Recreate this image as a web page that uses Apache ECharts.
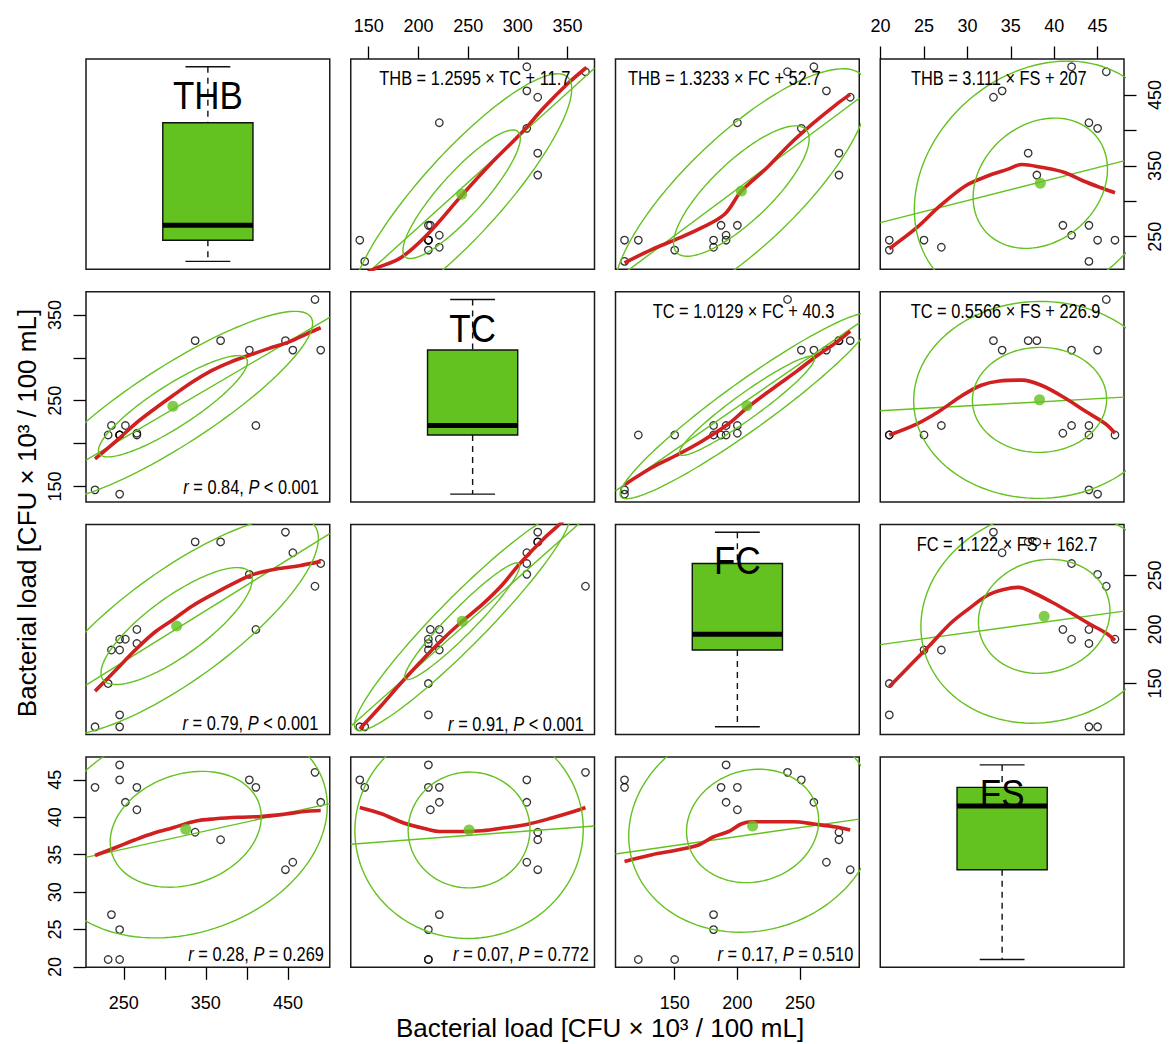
<!DOCTYPE html>
<html><head><meta charset="utf-8">
<script src="https://cdn.jsdelivr.net/npm/echarts@6/dist/echarts.min.js"></script>
<style>html,body{margin:0;padding:0;background:#fff}#c{width:1169px;height:1044px}</style>
</head><body><div id="c"></div>
<script>
// ---------------- data (18 samples) ----------------
const varNames = ['THB', 'TC', 'FC', 'FS'];
const THB = [245, 231, 245, 235, 447, 456, 368, 337, 266, 252, 490, 266, 215, 411, 403, 245, 483, 245];
const TC  = [210, 210, 210, 221, 320, 309, 320, 320, 212, 221, 309, 210, 146, 221, 309, 141, 368, 210];
const FC  = [121, 150, 181, 181, 290, 271, 281, 281, 200, 191, 261, 187, 110, 200, 251, 110, 240, 191];
const FS  = [21, 21, 25, 27, 33, 34, 37, 38, 41, 42, 42, 44, 44, 44, 45, 45, 46, 47];

// smoothed (loess) curves: [x, y] with y = row variable, x = column variable
const smooth_THB_TC = [[141,190],[152,202],[182,220],[209,253],[244,309],[272,352],[304,397],[326,432],[350,466],[369,489]];
const smooth_THB_FC = [[110,213],[132,232],[151,246],[172,263],[190,282],[203,314],[224,348],[242,381],[261,411],[279,437],[290,451]];
const smooth_THB_FS = [[21,233],[24.2,263],[26.8,293],[29.8,322],[32.4,336],[34.6,345],[36.3,352],[38.5,348],[41.1,341],[43.3,329],[45.4,319],[47,312]];
const smooth_TC_THB = [[215,182],[241,203],[264,223],[287,240],[310,256],[334,272],[357,285],[380,295],[403,303],[427,311],[450,318],[473,328],[490,335]];
const smooth_TC_FC  = [[110,152],[132,172],[151,186],[172,203],[193,223],[208,242],[230,266],[248,285],[264,303],[279,318],[290,331]];
const smooth_TC_FS  = [[21,210],[24.2,223],[26.8,238],[29.4,256],[31.6,268],[33.7,273],[36.3,274],[38.5,268],[41.1,254],[43.7,237],[45.9,223],[47,212]];
const smooth_FC_THB = [[215,143],[241,163],[264,181],[287,197],[310,209],[334,222],[362,234],[390,245],[408,251],[436,256],[464,259],[490,263]];
const smooth_FC_TC  = [[141,108],[162,129],[182,150],[201,169],[221,188],[242,206],[264,223],[283,240],[303,262],[326,284],[344,299],[369,322]];
const smooth_FC_FS  = [[21,147],[23.3,166],[25.5,184],[28.1,206],[30.3,220],[32.4,232],[34.2,237],[35.9,239],[37.6,234],[39.8,225],[42,215],[44.1,205],[45.9,197],[47,190]];
const smooth_FS_THB = [[215,34.9],[241,36.0],[264,37.0],[287,37.9],[310,38.6],[338,39.5],[362,39.8],[390,40.0],[417,40.1],[445,40.4],[473,40.8],[490,40.9]];
const smooth_FS_TC  = [[141,41.3],[162,40.5],[186,39.2],[209,38.4],[221,38.1],[240,38.1],[264,38.2],[287,38.6],[311,39.1],[334,39.9],[357,40.8],[368,41.3]];
const smooth_FS_FC  = [[110,34.1],[132,35.0],[151,35.6],[169,36.3],[181,37.4],[193,38.1],[203,39.1],[212,39.4],[230,39.4],[245,39.4],[261,39.1],[279,38.7],[290,38.3]];
const smoothCurves = {
  '0-1': smooth_THB_TC, '0-2': smooth_THB_FC, '0-3': smooth_THB_FS,
  '1-0': smooth_TC_THB, '1-2': smooth_TC_FC, '1-3': smooth_TC_FS,
  '2-0': smooth_FC_THB, '2-1': smooth_FC_TC, '2-3': smooth_FC_FS,
  '3-0': smooth_FS_THB, '3-1': smooth_FS_TC, '3-2': smooth_FS_FC
};

// regression equations shown in the upper panels (row-col)
const eqTexts = {
  '0-1': 'THB = 1.2595 × TC + 11.7',
  '0-2': 'THB = 1.3233 × FC + 52.7',
  '0-3': 'THB = 3.111 × FS + 207',
  '1-2': 'TC = 1.0129 × FC + 40.3',
  '1-3': 'TC = 0.5566 × FS + 226.9',
  '2-3': 'FC = 1.122 × FS + 162.7'
};
const corrTexts = {
  '1-0': ['0.84', '< 0.001'],
  '2-0': ['0.79', '< 0.001'],
  '2-1': ['0.91', '< 0.001'],
  '3-0': ['0.28', '= 0.269'],
  '3-1': ['0.07', '= 0.772'],
  '3-2': ['0.17', '= 0.510']
};
const ticksTHB = [250, 300, 350, 400, 450];
const labelsTHB = [250, 350, 450];
const ticksTC = [150, 200, 250, 300, 350];
const labelsTCtop = [150, 200, 250, 300, 350];
const labelsTCleft = [150, 250, 350];
const ticksFC = [150, 200, 250];
const labelsFC = [150, 200, 250];
const ticksFS = [20, 25, 30, 35, 40, 45];
const labelsFS = [20, 25, 30, 35, 40, 45];
// ellipse radii (in robust standard-deviation units)
const ellipseRadii = [1.0, 1.875];
const axisTitle = 'Bacterial load [CFU × 10³ / 100 mL]';

// ---------------- layout / style ----------------
const L = 86, T = 59, W = 243.75, H = 210.2, GX = 21, GY = 22.5;
const GREEN = '#63C21F', RED = '#D0201F';
const FONT = '"Liberation Sans", Arial, Helvetica, sans-serif';
const eqPos = { '0-1': 0.509, '0-2': 0.446, '0-3': 0.486, '1-2': 0.525, '1-3': 0.514, '2-3': 0.52 };
const rPos = { '1-0': [10.8, 15], '2-0': [11.5, 11.5], '2-1': [10.7, 11.3], '3-0': [5.8, 14], '3-1': [5.7, 14], '3-2': [6, 14] };

const vars = [THB, TC, FC, FS];

// ---------------- statistics helpers ----------------
const sum = a => a.reduce((s, v) => s + v, 0);
const mean = a => sum(a) / a.length;
function rangeOf(a) {
  const mn = Math.min(...a), mx = Math.max(...a), d = mx - mn;
  return [mn - 0.04 * d, mx + 0.04 * d];
}
function lm(x, y) {
  const mx = mean(x), my = mean(y);
  let sxy = 0, sxx = 0;
  x.forEach((v, i) => { sxy += (v - mx) * (y[i] - my); sxx += (v - mx) * (v - mx); });
  const b = sxy / sxx;
  return [my - b * mx, b];
}
function fivenum(a) {
  const x = a.slice().sort((p, q) => p - q), n = x.length;
  const n4 = Math.floor((n + 3) / 2) / 2;
  const d = [1, n4, (n + 1) / 2, n + 1 - n4, n];
  return d.map(v => 0.5 * (x[Math.floor(v) - 1] + x[Math.ceil(v) - 1]));
}
// MASS::cov.trob (nu = 5): robust centre and scatter
function covTrob(x, y) {
  const n = x.length, p = 2, nu = 5, tol = 0.01, maxit = 25;
  let w = new Array(n).fill(1);
  let loc = [mean(x), mean(y)];
  let X = [];
  for (let it = 0; it < maxit; it++) {
    const w0 = w.slice();
    X = x.map((v, i) => [v - loc[0], y[i] - loc[1]]);
    const sw = sum(w);
    let a = 0, b = 0, c = 0;
    X.forEach((v, i) => { const f = w[i] / sw; a += f * v[0] * v[0]; b += f * v[0] * v[1]; c += f * v[1] * v[1]; });
    const det = a * c - b * b;
    const Q = X.map(v => (c * v[0] * v[0] - 2 * b * v[0] * v[1] + a * v[1] * v[1]) / det);
    w = Q.map(qq => (nu + p) / (nu + qq));
    const sw2 = sum(w);
    loc = [sum(x.map((v, i) => w[i] * v)) / sw2, sum(y.map((v, i) => w[i] * v)) / sw2];
    if (Math.max(...w.map((v, i) => Math.abs(v - w0[i]))) < tol) break;
  }
  let a = 0, b = 0, c = 0;
  X.forEach((v, i) => { a += w[i] * v[0] * v[0]; b += w[i] * v[0] * v[1]; c += w[i] * v[1] * v[1]; });
  return { center: loc, cov: [a / n, b / n, c / n] };
}
function ellipsePts(ct, cov, r) {
  const l11 = Math.sqrt(cov[0]), l21 = cov[1] / l11, l22 = Math.sqrt(Math.max(cov[2] - l21 * l21, 0));
  const pts = [];
  for (let k = 0; k <= 120; k++) {
    const t = 2 * Math.PI * k / 120, co = Math.cos(t), si = Math.sin(t);
    pts.push([ct.center[0] + r * l11 * co, ct.center[1] + r * (l21 * co + l22 * si)]);
  }
  return pts;
}

// ---------------- build option ----------------
const ranges = vars.map(rangeOf);
const grids = [], xAxes = [], yAxes = [], series = [], graphics = [];
const tickStyle = { show: true, length: 12.5, inside: false, lineStyle: { color: '#000', width: 1.3 } };
const labStyle = { show: true, fontSize: 18, color: '#000', fontFamily: FONT };

function xAxisFor(i, j, k) {
  const ax = { type: 'value', gridIndex: k, min: ranges[j][0], max: ranges[j][1], show: false,
    axisLine: { show: false }, splitLine: { show: false } };
  let ticks = null, labels = null, pos = null, margin = 0;
  if (i === 0 && j === 1) { ticks = ticksTC; labels = labelsTCtop; pos = 'top'; margin = 24; }
  if (i === 0 && j === 3) { ticks = ticksFS; labels = labelsFS; pos = 'top'; margin = 24; }
  if (i === 3 && j === 0) { ticks = ticksTHB; labels = labelsTHB; pos = 'bottom'; margin = 27; }
  if (i === 3 && j === 2) { ticks = ticksFC; labels = labelsFC; pos = 'bottom'; margin = 27; }
  if (ticks) {
    Object.assign(ax, { show: true, position: pos,
      axisTick: Object.assign({ customValues: ticks }, tickStyle),
      axisLabel: Object.assign({ customValues: labels, margin: margin }, labStyle) });
  }
  return ax;
}
function yAxisFor(i, j, k) {
  const ax = { type: 'value', gridIndex: k, min: ranges[i][0], max: ranges[i][1], show: false,
    axisLine: { show: false }, splitLine: { show: false } };
  let ticks = null, labels = null, pos = null;
  if (i === 1 && j === 0) { ticks = ticksTC; labels = labelsTCleft; pos = 'left'; }
  if (i === 3 && j === 0) { ticks = ticksFS; labels = labelsFS; pos = 'left'; }
  if (i === 0 && j === 3) { ticks = ticksTHB; labels = labelsTHB; pos = 'right'; }
  if (i === 2 && j === 3) { ticks = ticksFC; labels = labelsFC; pos = 'right'; }
  if (ticks) {
    Object.assign(ax, { show: true, position: pos,
      axisTick: Object.assign({ customValues: ticks }, tickStyle),
      axisLabel: Object.assign({ customValues: labels, margin: 22, rotate: 90 }, labStyle) });
  }
  return ax;
}

for (let i = 0; i < 4; i++) {
  for (let j = 0; j < 4; j++) {
    const k = i * 4 + j;
    const gl = L + j * (W + GX), gt = T + i * (H + GY);
    grids.push({ left: gl, top: gt, width: W, height: H, show: true, borderColor: '#1a1a1a', borderWidth: 1.5,
      backgroundColor: 'rgba(0,0,0,0)', containLabel: false, outerBoundsMode: 'none' });
    if (i === j) {
      xAxes.push({ type: 'value', gridIndex: k, min: 0, max: 1, show: false, splitLine: { show: false } });
      yAxes.push(yAxisFor(i, j, k));
      const f = fivenum(vars[i]);
      series.push({
        type: 'custom', xAxisIndex: k, yAxisIndex: k, silent: true, z: 2, animation: false,
        encode: { x: 0, y: [1, 2, 3, 4, 5] },
        data: [[0.5, f[0], f[1], f[2], f[3], f[4]]],
        renderItem: (params, api) => {
          const P = (xx, idx) => api.coord([xx, api.value(idx)]);
          const lo = P(0.5, 1), q1 = P(0.5, 2), md = P(0.5, 3), q3 = P(0.5, 4), hi = P(0.5, 5);
          const bl = P(0.315, 2)[0], br = P(0.685, 2)[0], cl = P(0.408, 2)[0], cr = P(0.592, 2)[0];
          const ls = { stroke: '#111', lineWidth: 1.4 };
          return { type: 'group', children: [
            { type: 'line', shape: { x1: hi[0], y1: hi[1], x2: q3[0], y2: q3[1] }, style: Object.assign({ lineDash: [6, 5] }, ls) },
            { type: 'line', shape: { x1: q1[0], y1: q1[1], x2: lo[0], y2: lo[1] }, style: Object.assign({ lineDash: [6, 5] }, ls) },
            { type: 'line', shape: { x1: cl, y1: hi[1], x2: cr, y2: hi[1] }, style: ls },
            { type: 'line', shape: { x1: cl, y1: lo[1], x2: cr, y2: lo[1] }, style: ls },
            { type: 'rect', shape: { x: bl, y: q3[1], width: br - bl, height: q1[1] - q3[1] }, style: { fill: GREEN, stroke: '#111', lineWidth: 1.4 } },
            { type: 'line', shape: { x1: bl, y1: md[1], x2: br, y2: md[1] }, style: { stroke: '#000', lineWidth: 5 } }
          ] };
        }
      });
      graphics.push({ type: 'text', x: gl + W / 2, y: gt + 37, scaleX: 0.92, silent: true, z: 100,
        style: { text: varNames[i], fontSize: 38, fontFamily: FONT, fill: '#000',
          align: 'center', verticalAlign: 'middle', textAlign: 'center', textVerticalAlign: 'middle' } });
      continue;
    }
    xAxes.push(xAxisFor(i, j, k));
    yAxes.push(yAxisFor(i, j, k));
    const xs = vars[j], ys = vars[i];
    const key = i + '-' + j;
    const common = { xAxisIndex: k, yAxisIndex: k, silent: true, animation: false };
    series.push(Object.assign({ type: 'scatter', data: xs.map((v, n) => [v, ys[n]]), symbol: 'circle', symbolSize: 7.5,
      itemStyle: { color: 'rgba(0,0,0,0)', borderColor: '#000', borderWidth: 1.3 }, z: 2 }, common));
    const [a, b] = lm(xs, ys);
    const x0 = ranges[j][0], x1 = ranges[j][1];
    series.push(Object.assign({ type: 'line', data: [[x0, a + b * x0], [x1, a + b * x1]], symbol: 'none',
      lineStyle: { color: GREEN, width: 1.4 }, clip: true, z: 3 }, common));
    series.push(Object.assign({ type: 'line', data: smoothCurves[key], symbol: 'none', smooth: 0.35,
      lineStyle: { color: RED, width: 3.6 }, clip: true, z: 4 }, common));
    const ct = covTrob(xs, ys);
    ellipseRadii.forEach(r => {
      series.push(Object.assign({ type: 'line', data: ellipsePts(ct, ct.cov, r), symbol: 'none',
        lineStyle: { color: GREEN, width: 1.4 }, clip: true, z: 5 }, common));
    });
    series.push(Object.assign({ type: 'scatter', data: [ct.center], symbol: 'circle', symbolSize: 11,
      itemStyle: { color: GREEN }, z: 6 }, common));
    if (eqTexts[key]) {
      graphics.push({ type: 'text', x: gl + W * eqPos[key], y: gt + 19, scaleX: 0.78, silent: true, z: 100,
        style: { text: eqTexts[key], fontSize: 21, fontFamily: FONT, fill: '#000',
          align: 'center', verticalAlign: 'middle', textAlign: 'center', textVerticalAlign: 'middle' } });
    }
    if (corrTexts[key]) {
      const [rv, pv] = corrTexts[key], pp = rPos[key];
      graphics.push({ type: 'text', x: gl + W - pp[0], y: gt + H - pp[1], scaleX: 0.78, silent: true, z: 100,
        style: { text: '{i|r} = ' + rv + ', {i|P} ' + pv, fontSize: 21, fontFamily: FONT, fill: '#000',
          align: 'right', verticalAlign: 'middle', textAlign: 'right', textVerticalAlign: 'middle',
          rich: { i: { fontStyle: 'italic', fontSize: 21, fontFamily: FONT, fill: '#000', color: '#000' } } } });
    }
  }
}
graphics.push({ type: 'text', x: 600, y: 1028, silent: true,
  style: { text: axisTitle, fontSize: 26, fontFamily: FONT, fill: '#000',
    align: 'center', verticalAlign: 'middle', textAlign: 'center', textVerticalAlign: 'middle' } });
graphics.push({ type: 'text', x: 27, y: 513, rotation: Math.PI / 2, silent: true,
  style: { text: axisTitle, fontSize: 26, fontFamily: FONT, fill: '#000',
    align: 'center', verticalAlign: 'middle', textAlign: 'center', textVerticalAlign: 'middle' } });

const chart = echarts.init(document.getElementById('c'), null, { renderer: 'svg' });
chart.setOption({
  animation: false,
  backgroundColor: '#fff',
  grid: grids, xAxis: xAxes, yAxis: yAxes, series: series,
  graphic: { elements: graphics }
});
</script></body></html>
